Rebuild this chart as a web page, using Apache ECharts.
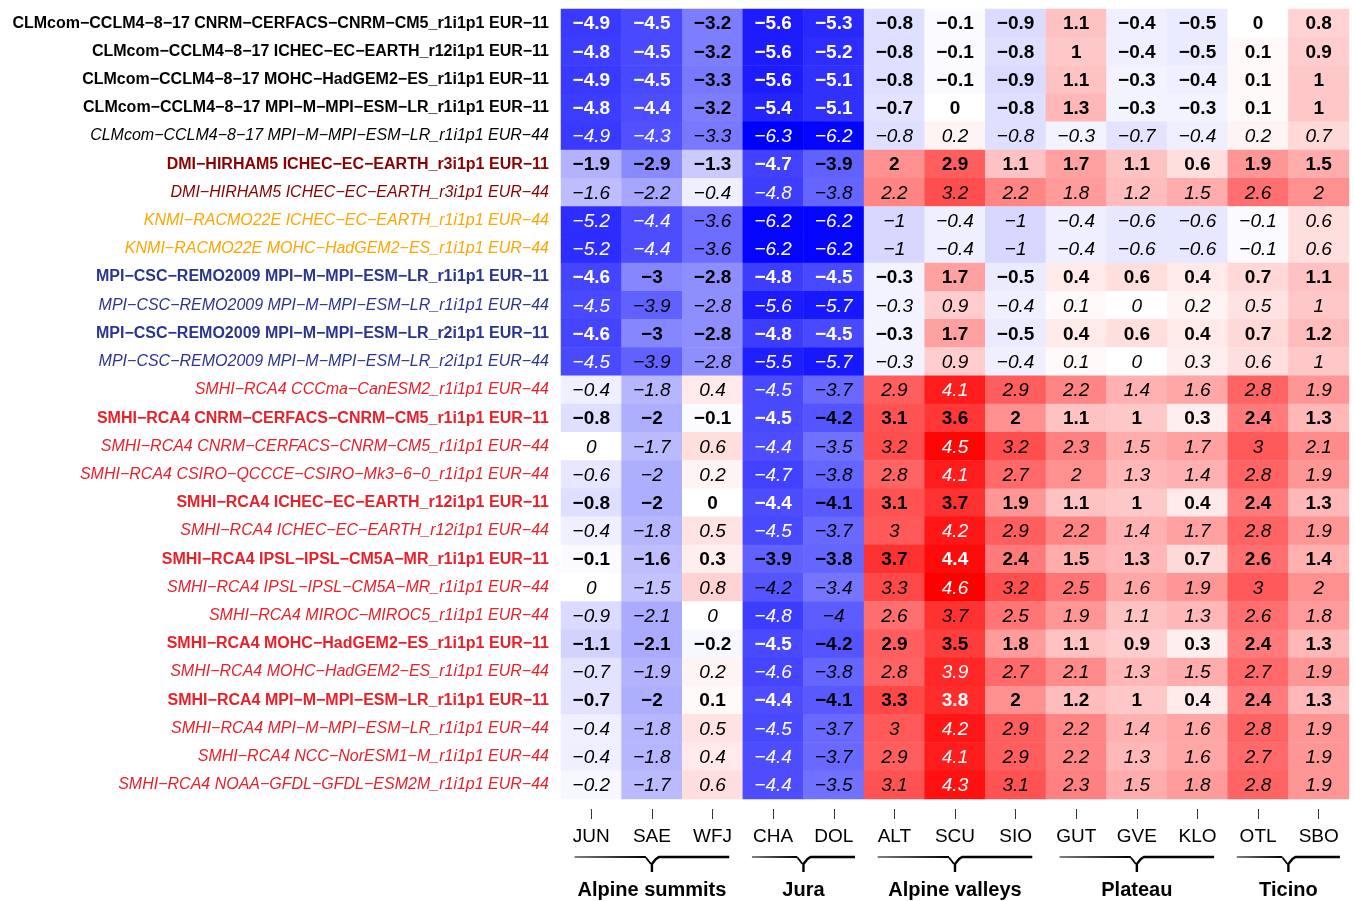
<!DOCTYPE html>
<html>
<head>
<meta charset="utf-8">
<script src="https://cdn.jsdelivr.net/npm/echarts@6.0.0/dist/echarts.min.js"></script>
<style>
html,body{margin:0;padding:0;background:#fff;}
#chart{width:1354px;height:901px;}
</style>
</head>
<body>
<div id="chart"></div>
<script>
// ---------- DATA ----------
const stations = ['JUN','SAE','WFJ','CHA','DOL','ALT','SCU','SIO','GUT','GVE','KLO','OTL','SBO'];

const models = [
  'CLMcom−CCLM4−8−17 CNRM−CERFACS−CNRM−CM5_r1i1p1 EUR−11',
  'CLMcom−CCLM4−8−17 ICHEC−EC−EARTH_r12i1p1 EUR−11',
  'CLMcom−CCLM4−8−17 MOHC−HadGEM2−ES_r1i1p1 EUR−11',
  'CLMcom−CCLM4−8−17 MPI−M−MPI−ESM−LR_r1i1p1 EUR−11',
  'CLMcom−CCLM4−8−17 MPI−M−MPI−ESM−LR_r1i1p1 EUR−44',
  'DMI−HIRHAM5 ICHEC−EC−EARTH_r3i1p1 EUR−11',
  'DMI−HIRHAM5 ICHEC−EC−EARTH_r3i1p1 EUR−44',
  'KNMI−RACMO22E ICHEC−EC−EARTH_r1i1p1 EUR−44',
  'KNMI−RACMO22E MOHC−HadGEM2−ES_r1i1p1 EUR−44',
  'MPI−CSC−REMO2009 MPI−M−MPI−ESM−LR_r1i1p1 EUR−11',
  'MPI−CSC−REMO2009 MPI−M−MPI−ESM−LR_r1i1p1 EUR−44',
  'MPI−CSC−REMO2009 MPI−M−MPI−ESM−LR_r2i1p1 EUR−11',
  'MPI−CSC−REMO2009 MPI−M−MPI−ESM−LR_r2i1p1 EUR−44',
  'SMHI−RCA4 CCCma−CanESM2_r1i1p1 EUR−44',
  'SMHI−RCA4 CNRM−CERFACS−CNRM−CM5_r1i1p1 EUR−11',
  'SMHI−RCA4 CNRM−CERFACS−CNRM−CM5_r1i1p1 EUR−44',
  'SMHI−RCA4 CSIRO−QCCCE−CSIRO−Mk3−6−0_r1i1p1 EUR−44',
  'SMHI−RCA4 ICHEC−EC−EARTH_r12i1p1 EUR−11',
  'SMHI−RCA4 ICHEC−EC−EARTH_r12i1p1 EUR−44',
  'SMHI−RCA4 IPSL−IPSL−CM5A−MR_r1i1p1 EUR−11',
  'SMHI−RCA4 IPSL−IPSL−CM5A−MR_r1i1p1 EUR−44',
  'SMHI−RCA4 MIROC−MIROC5_r1i1p1 EUR−44',
  'SMHI−RCA4 MOHC−HadGEM2−ES_r1i1p1 EUR−11',
  'SMHI−RCA4 MOHC−HadGEM2−ES_r1i1p1 EUR−44',
  'SMHI−RCA4 MPI−M−MPI−ESM−LR_r1i1p1 EUR−11',
  'SMHI−RCA4 MPI−M−MPI−ESM−LR_r1i1p1 EUR−44',
  'SMHI−RCA4 NCC−NorESM1−M_r1i1p1 EUR−44',
  'SMHI−RCA4 NOAA−GFDL−GFDL−ESM2M_r1i1p1 EUR−44'
];

const values = [
  [-4.9,-4.5,-3.2,-5.6,-5.3,-0.8,-0.1,-0.9,1.1,-0.4,-0.5,0,0.8],
  [-4.8,-4.5,-3.2,-5.6,-5.2,-0.8,-0.1,-0.8,1,-0.4,-0.5,0.1,0.9],
  [-4.9,-4.5,-3.3,-5.6,-5.1,-0.8,-0.1,-0.9,1.1,-0.3,-0.4,0.1,1],
  [-4.8,-4.4,-3.2,-5.4,-5.1,-0.7,0,-0.8,1.3,-0.3,-0.3,0.1,1],
  [-4.9,-4.3,-3.3,-6.3,-6.2,-0.8,0.2,-0.8,-0.3,-0.7,-0.4,0.2,0.7],
  [-1.9,-2.9,-1.3,-4.7,-3.9,2,2.9,1.1,1.7,1.1,0.6,1.9,1.5],
  [-1.6,-2.2,-0.4,-4.8,-3.8,2.2,3.2,2.2,1.8,1.2,1.5,2.6,2],
  [-5.2,-4.4,-3.6,-6.2,-6.2,-1,-0.4,-1,-0.4,-0.6,-0.6,-0.1,0.6],
  [-5.2,-4.4,-3.6,-6.2,-6.2,-1,-0.4,-1,-0.4,-0.6,-0.6,-0.1,0.6],
  [-4.6,-3,-2.8,-4.8,-4.5,-0.3,1.7,-0.5,0.4,0.6,0.4,0.7,1.1],
  [-4.5,-3.9,-2.8,-5.6,-5.7,-0.3,0.9,-0.4,0.1,0,0.2,0.5,1],
  [-4.6,-3,-2.8,-4.8,-4.5,-0.3,1.7,-0.5,0.4,0.6,0.4,0.7,1.2],
  [-4.5,-3.9,-2.8,-5.5,-5.7,-0.3,0.9,-0.4,0.1,0,0.3,0.6,1],
  [-0.4,-1.8,0.4,-4.5,-3.7,2.9,4.1,2.9,2.2,1.4,1.6,2.8,1.9],
  [-0.8,-2,-0.1,-4.5,-4.2,3.1,3.6,2,1.1,1,0.3,2.4,1.3],
  [0,-1.7,0.6,-4.4,-3.5,3.2,4.5,3.2,2.3,1.5,1.7,3,2.1],
  [-0.6,-2,0.2,-4.7,-3.8,2.8,4.1,2.7,2,1.3,1.4,2.8,1.9],
  [-0.8,-2,0,-4.4,-4.1,3.1,3.7,1.9,1.1,1,0.4,2.4,1.3],
  [-0.4,-1.8,0.5,-4.5,-3.7,3,4.2,2.9,2.2,1.4,1.7,2.8,1.9],
  [-0.1,-1.6,0.3,-3.9,-3.8,3.7,4.4,2.4,1.5,1.3,0.7,2.6,1.4],
  [0,-1.5,0.8,-4.2,-3.4,3.3,4.6,3.2,2.5,1.6,1.9,3,2],
  [-0.9,-2.1,0,-4.8,-4,2.6,3.7,2.5,1.9,1.1,1.3,2.6,1.8],
  [-1.1,-2.1,-0.2,-4.5,-4.2,2.9,3.5,1.8,1.1,0.9,0.3,2.4,1.3],
  [-0.7,-1.9,0.2,-4.6,-3.8,2.8,3.9,2.7,2.1,1.3,1.5,2.7,1.9],
  [-0.7,-2,0.1,-4.4,-4.1,3.3,3.8,2,1.2,1,0.4,2.4,1.3],
  [-0.4,-1.8,0.5,-4.5,-3.7,3,4.2,2.9,2.2,1.4,1.6,2.8,1.9],
  [-0.4,-1.8,0.4,-4.4,-3.7,2.9,4.1,2.9,2.2,1.3,1.6,2.7,1.9],
  [-0.2,-1.7,0.6,-4.4,-3.5,3.1,4.3,3.1,2.3,1.5,1.8,2.8,1.9]
];

const groupNames = ['Alpine summits','Jura','Alpine valleys','Plateau','Ticino'];
const groupFirst = [0,3,5,8,11];
const groupLast  = [2,4,7,10,12];

// ---------- STYLE ----------
const FONT = "'Liberation Sans', Arial, Helvetica, sans-serif";
const modelColors = { CLMcom:'#000000', DMI:'#8b0000', KNMI:'#ffa500', MPI:'#2b3590', SMHI:'#e8202a' };

const allVals = values.flat();
const vMin = Math.min(...allVals), vMax = Math.max(...allVals);

function cellColor(v){
  if (v < 0){
    const t = Math.min(1, v / vMin);
    const c = Math.round(255 * (1 - t));
    return 'rgb(' + c + ',' + c + ',255)';
  } else {
    const t = Math.min(1, v / vMax);
    const c = Math.round(255 * (1 - t));
    return 'rgb(255,' + c + ',' + c + ')';
  }
}
function isHiRes(name){ return /EUR−11$/.test(name); }
function fmt(v){ return String(v).replace('-', '−'); }

const yData = models.map(function(m){
  const key = m.split('−')[0];
  const hi = isHiRes(m);
  return { value: m, textStyle: {
    color: modelColors[key] || '#000',
    fontWeight: hi ? 'bold' : 'normal',
    fontStyle: hi ? 'normal' : 'italic',
    fontSize: 16, fontFamily: FONT } };
});

const heatData = [];
values.forEach(function(row, r){
  const hi = isHiRes(models[r]);
  row.forEach(function(v, c){
    const white = (v <= -4.25 || v >= 3.75);
    heatData.push({
      value: [c, r, v],
      itemStyle: { color: cellColor(v) },
      label: { color: white ? '#ffffff' : '#000000',
               fontWeight: hi ? 'bold' : 'normal',
               fontStyle: hi ? 'normal' : 'italic' }
    });
  });
});

const chart = echarts.init(document.getElementById('chart'), null, {renderer:'canvas'});
const GRID = { left: 561, top: 9, right: 5, bottom: 102 };

chart.setOption({
  animation: false,
  backgroundColor: '#ffffff',
  grid: { left: GRID.left, top: GRID.top, right: GRID.right, bottom: GRID.bottom, containLabel: false },
  xAxis: {
    type: 'category', data: stations, position: 'bottom', offset: 10,
    axisLine: { show: false },
    axisTick: { show: true, alignWithLabel: true, length: 10, lineStyle: { color: '#333', width: 1 } },
    axisLabel: { margin: 18, fontSize: 19, color: '#000', fontFamily: FONT },
    splitLine: { show: false }
  },
  yAxis: {
    type: 'category', data: yData, inverse: true,
    axisLine: { show: false }, axisTick: { show: false },
    axisLabel: { margin: 12, fontSize: 16, fontFamily: FONT },
    splitLine: { show: false }
  },
  series: [{
    type: 'heatmap',
    data: heatData,
    itemStyle: { borderWidth: 0 },
    label: { show: true, fontSize: 19, fontFamily: FONT, offset: [0, 1],
             formatter: function(p){ return fmt(p.value[2]); } },
    emphasis: { disabled: true }
  }]
});

// ---------- BRACES & GROUP LABELS ----------
function drawGroups(){
  const px = function(i){ return chart.convertToPixel({xAxisIndex:0}, i); };
  const band = px(1) - px(0);
  const bottomRow = chart.convertToPixel({yAxisIndex:0}, models.length - 1);
  const rowH = Math.abs(chart.convertToPixel({yAxisIndex:0}, 1) - chart.convertToPixel({yAxisIndex:0}, 0));
  const gridBottom = bottomRow + rowH / 2;
  const y0 = gridBottom + 58;
  const elements = [];
  groupNames.forEach(function(name, g){
    const xa = px(groupFirst[g]) - band/2;
    const xb = px(groupLast[g]) + band/2;
    const cx = (xa + xb) / 2;
    const half = (xb - xa) * 0.85 / 2;
    const x0 = cx - half, x1 = cx + half;
    elements.push({ type:'polygon', silent:true,
      shape:{ points:[[x0, y0-0.4],[cx-6, y0-1.1],[cx-6, y0+1.1],[x0, y0+0.4]] },
      style:{ fill:'#000' } });
    elements.push({ type:'polyline', silent:true,
      shape:{ points:[[cx-6, y0+0.5],[cx-1, y0+7]] },
      style:{ stroke:'#000', lineWidth:1.8, fill:null } });
    elements.push({ type:'polyline', silent:true,
      shape:{ points:[[x1, y0],[cx+7, y0],[cx+4, y0+2],[cx, y0+7],[cx, y0+15]] },
      style:{ stroke:'#000', lineWidth:2.4, fill:null, lineJoin:'round' } });
    elements.push({ type:'text', silent:true,
      x: cx, y: y0 + 33,
      style:{ text:name, fontSize:20, fontWeight:'bold', fontFamily:FONT, fill:'#000',
              align:'center', verticalAlign:'middle' } });
  });
  chart.setOption({ graphic: { elements: elements } });
}
drawGroups();
</script>
</body>
</html>
